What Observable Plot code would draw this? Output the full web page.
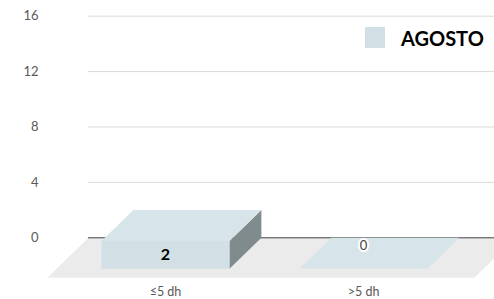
<!DOCTYPE html>
<html><head><meta charset="utf-8">
<script src="https://cdn.jsdelivr.net/npm/d3@7"></script>
<script src="https://cdn.jsdelivr.net/npm/@observablehq/plot@0.6"></script>
<style>
body{margin:0;background:#fff;font-family:Lato,"Open Sans",sans-serif}
#wrap{position:relative;width:494px;height:299px;overflow:hidden}
#legend{position:absolute;left:365px;top:27px;height:21px;display:flex;align-items:center;white-space:nowrap}
#legend .sw{width:20px;height:21px;background:#d2e0e5;margin-right:16px}
#legend .lb{font:bold 20px Lato,"Open Sans",sans-serif;color:#000}
</style></head><body><div id="wrap"></div>
<script>
const categories = ["≤5 dh", ">5 dh"];
const values = [2, 0];
const seriesName = "AGOSTO";
const yTicks = [0, 4, 8, 12, 16];

// layout
const xDomain = [-0.55, 1.5], xRange = [88, 494];
const yDomain = [0, 16], yRange = [237.3, 15.7];
const pxX = (xRange[1] - xRange[0]) / (xDomain[1] - xDomain[0]);
const pxY = (yRange[0] - yRange[1]) / (yDomain[1] - yDomain[0]);
const kx = 1.03;
const BAR_DEPTH = 31, FLOOR_DEPTH = 40, HALF = 0.323;
const FLOOR_X = [xDomain[0], 1.606];
// oblique projection: depth (px) moves toward viewer: left & down
function P(x, y, d) { return {x: x - d * kx / pxX, y: y - d / pxY}; }

function poly(id, pts) { return pts.map(([x, y, d]) => ({id, ...P(x, y, d)})); }

const floor = poly("floor", [[FLOOR_X[0],0,0],[FLOOR_X[1],0,0],[FLOOR_X[1],0,FLOOR_DEPTH],[FLOOR_X[0],0,FLOOR_DEPTH]]);
const fronts = [], tops = [], sides = [];
values.forEach((v, i) => {
  const a = i - HALF, b = i + HALF, D = BAR_DEPTH;
  fronts.push(...poly("f"+i, [[a,0,D],[b,0,D],[b,v,D],[a,v,D]]));
  tops.push(...poly("t"+i, [[a,v,D],[b,v,D],[b,v,0],[a,v,0]]));
  sides.push(...poly("s"+i, [[b,0,D],[b,0,0],[b,v,0],[b,v,D]]));
});
const bars = categories.map((c, i) => ({c, v: values[i], ...P(i, values[i] / 2, BAR_DEPTH)}));
const axisPts = categories.map((c, i) => ({c, ...P(i, 0, BAR_DEPTH)}));

const chart = Plot.plot({
  width: 494, height: 299,
  marginLeft: xRange[0], marginRight: 494 - xRange[1],
  marginTop: yRange[1], marginBottom: 299 - yRange[0],
  style: {fontFamily: "Lato, 'Open Sans', sans-serif", fontSize: "13px", color: "#595959", background: "#fff"},
  x: {type: "linear", domain: xDomain, axis: null},
  y: {domain: yDomain, ticks: yTicks, tickSize: 0, tickPadding: 50, label: null, tickFormat: d => d},
  marks: [
    Plot.ruleY(yTicks.filter(t => t > 0), {stroke: "#d9d9d9", strokeWidth: 1}),
    Plot.line(floor, {x: "x", y: "y", z: "id", fill: "#ebebeb", stroke: "none"}),
    Plot.ruleY([0], {stroke: "#404040", strokeWidth: 1}),
    Plot.line(sides, {x: "x", y: "y", z: "id", fill: "#7f8b8c", stroke: "none"}),
    Plot.line(fronts, {x: "x", y: "y", z: "id", fill: "#d2e0e5", stroke: "none"}),
    Plot.line(tops, {x: "x", y: "y", z: "id", fill: "#d7e4e9", stroke: "none"}),
    Plot.text(bars.filter(d => d.v > 0), {x: "x", y: "y", text: d => String(d.v), fontSize: 16, fontWeight: "bold", fill: "#000"}),
    Plot.text(bars.filter(d => d.v === 0), {x: "x", y: "y", text: d => String(d.v), dy: -23, fontSize: 13, fill: "#404040", stroke: "#fff", strokeWidth: 4}),
    Plot.text(axisPts, {x: "x", y: "y", text: "c", dy: 23, fontSize: 12.5, fill: "#595959"})
  ]
});
const wrap = document.getElementById("wrap");
wrap.appendChild(chart);
const lg = document.createElement("div");
lg.id = "legend";
lg.innerHTML = `<div class="sw"></div><div class="lb">${seriesName}</div>`;
wrap.appendChild(lg);
</script></body></html>
